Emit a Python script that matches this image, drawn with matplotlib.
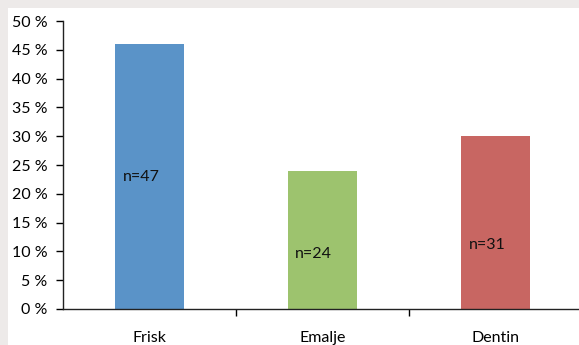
import matplotlib.pyplot as plt
from matplotlib.patches import Rectangle
from matplotlib.ticker import FuncFormatter, MultipleLocator

# andel per gruppe (%)
kategorier = ['Frisk', 'Emalje', 'Dentin']
andel = [46, 24, 30]
antall = ['n=47', 'n=24', 'n=31']
etikett_y = [22.9, 9.5, 11.1]
farger = ['#5A93C8', '#9DC36E', '#C86662']

plt.rcParams['font.family'] = ['Lato', 'DejaVu Sans']

fig = plt.figure(figsize=(5.79, 3.45), dpi=100)
fig.patch.set_facecolor('#EDEAE9')
# hvit flate innenfor den grå rammen
fig.patches.append(Rectangle((8 / 579, 0), 1, 337 / 345, transform=fig.transFigure,
                             facecolor='white', edgecolor='none', zorder=-5))

ax = fig.add_axes([63 / 579, (345 - 309) / 345, 519 / 579, 288 / 345])
ax.set_facecolor('none')

x = range(len(kategorier))
ax.bar(x, andel, width=0.4, color=farger)
for i, (tekst, y) in enumerate(zip(antall, etikett_y)):
    ax.text(i - 0.05, y, tekst, ha='center', va='center', fontsize=11.5, color='#111111')

ax.set_xlim(-0.5, 2.5)
ax.set_ylim(0, 50)
ax.yaxis.set_major_locator(MultipleLocator(5))
ax.yaxis.set_major_formatter(FuncFormatter(lambda v, p: f'{v:.0f} %'))
ax.set_xticks([0.5, 1.5])
ax.set_xticklabels([])
ax.set_xticks(list(x), minor=True)
ax.set_xticklabels(kategorier, minor=True)
ax.tick_params(axis='x', which='minor', length=0, pad=16, labelsize=11.5)
ax.tick_params(axis='x', which='major', length=5, width=1, direction='out')
ax.tick_params(axis='y', length=5, width=1, direction='out', labelsize=11.5, pad=6)

for side in ['top', 'right']:
    ax.spines[side].set_visible(False)
for side in ['left', 'bottom']:
    ax.spines[side].set_color('#222222')
    ax.spines[side].set_linewidth(1)

fig.savefig('out.png', dpi=100)
